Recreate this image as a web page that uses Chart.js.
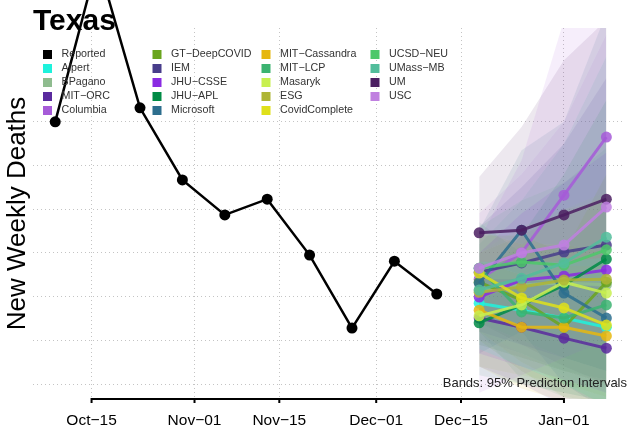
<!DOCTYPE html>
<html>
<head>
<meta charset="utf-8">
<script src="https://cdn.jsdelivr.net/npm/chart.js@4/dist/chart.umd.min.js"></script>
<style>
  html, body { margin: 0; padding: 0; background: #fff; }
</style>
</head>
<body>
<canvas id="chart" width="629" height="432"></canvas>
<script>
// days are counted from Oct 15
var reportedDays = [-6, 1, 8, 15, 22, 29, 36, 43, 50, 57];
var reportedDeaths = [1000, 1368, 1032, 867, 787, 823, 695, 528, 681, 606];
var forecastDays = [64, 71, 78, 85];

var tickDays = [0, 17, 31, 47, 61, 78];
var tickLabels = ['Oct\u221215', 'Nov\u221201', 'Nov\u221215', 'Dec\u221201', 'Dec\u221215', 'Jan\u221201'];
var gridValues = [400, 500, 600, 700, 800, 900, 1000];

var models = ['Alpert', 'BPagano', 'MIT\u2212ORC', 'Columbia', 'GT\u2212DeepCOVID', 'IEM', 'JHU\u2212CSSE',
  'JHU\u2212APL', 'Microsoft', 'MIT\u2212Cassandra', 'MIT\u2212LCP', 'Masaryk', 'ESG', 'CovidComplete',
  'UCSD\u2212NEU', 'UMass\u2212MB', 'UM', 'USC'];
var modelColors = ['#1ef2dc', '#8fbc8f', '#5a2a9e', '#a65bd8', '#6aa51e', '#483d8b', '#8a2be2',
  '#008b45', '#2d6e8e', '#e6b70f', '#3cb371', '#c8f050', '#aeb535', '#dfe01a',
  '#4dc86a', '#52bd9b', '#4b1f62', '#c080e0'];

// point forecasts, one row per model
var forecastMid = [
  [585, 569, 551, 530], [615, 627, 631, 627], [551, 530, 505, 482], [640, 700, 832, 965],
  [633, 592, 530, 633], [656, 677, 702, 718], [599, 638, 647, 661], [540, 581, 626, 686],
  [631, 752, 608, 551], [569, 530, 530, 510], [665, 565, 551, 581], [556, 581, 633, 608],
  [610, 622, 638, 640], [654, 597, 574, 535], [665, 679, 672, 707], [615, 642, 677, 736],
  [746, 752, 787, 823], [665, 700, 718, 805]
];
// 95% interval bounds
var forecastLo = [
  [480, 440, 400, 350], [520, 470, 420, 380], [440, 400, 350, 320], [380, 420, 460, 500],
  [500, 430, 370, 360], [520, 490, 460, 430], [470, 440, 410, 380], [420, 400, 380, 360],
  [470, 520, 400, 340], [440, 390, 360, 330], [520, 410, 370, 340], [440, 420, 400, 370],
  [490, 460, 430, 400], [520, 450, 400, 350], [540, 500, 460, 430], [490, 460, 430, 410],
  [540, 490, 440, 400], [500, 470, 430, 400]
];
var forecastHi = [
  [680, 680, 680, 690], [700, 760, 800, 840], [640, 640, 630, 620], [730, 912, 1233, 1500],
  [740, 740, 700, 880], [760, 850, 950, 1100], [700, 790, 860, 930], [640, 740, 880, 1050],
  [752, 935, 1000, 1250], [680, 650, 670, 670], [770, 700, 720, 800], [650, 720, 800, 820],
  [700, 740, 790, 830], [750, 720, 720, 700], [760, 820, 860, 940], [720, 820, 950, 1150],
  [874, 988, 1141, 1233], [790, 880, 1000, 1200]
];

function pts(xs, ys) {
  return xs.map(function(x, i) { return { x: x, y: ys[i] }; });
}

function hexA(hex, a) {
  var r = parseInt(hex.substr(1, 2), 16), g = parseInt(hex.substr(3, 2), 16), b = parseInt(hex.substr(5, 2), 16);
  return 'rgba(' + r + ',' + g + ',' + b + ',' + a + ')';
}

var datasets = [{
  label: 'Reported',
  data: pts(reportedDays, reportedDeaths),
  borderColor: '#000',
  backgroundColor: '#000',
  borderWidth: 2.5,
  pointRadius: 5.5,
  pointBorderWidth: 0,
  clip: false,
  order: 0
}];

models.forEach(function(name, i) {
  var col = modelColors[i];
  datasets.push({
    label: name,
    data: pts(forecastDays, forecastMid[i]),
    borderColor: hexA(col, 0.85),
    backgroundColor: hexA(col, 0.85),
    borderWidth: 3,
    pointRadius: 5.5,
    pointBorderWidth: 0,
    order: 1 + (models.length - i) * 0.01
  });
  datasets.push({
    label: name + ' hi',
    data: pts(forecastDays, forecastHi[i]),
    borderColor: 'rgba(0,0,0,0)',
    borderWidth: 0,
    pointRadius: 0,
    backgroundColor: hexA(col, 0.1),
    fill: '+1',
    order: 5
  });
  datasets.push({
    label: name + ' lo',
    data: pts(forecastDays, forecastLo[i]),
    borderColor: 'rgba(0,0,0,0)',
    borderWidth: 0,
    pointRadius: 0,
    fill: false,
    order: 5
  });
});

var FONT = '"Liberation Sans", Arial, Helvetica, sans-serif';

var decorations = {
  id: 'decorations',
  beforeDatasetsDraw: function(chart) {
    var ctx = chart.ctx;
    ctx.save();
    ctx.fillStyle = '#000';
    ctx.font = 'bold 30px ' + FONT;
    ctx.textBaseline = 'alphabetic';
    ctx.textAlign = 'left';
    ctx.fillText('Texas', 33, 30);
    ctx.restore();
  },
  afterDatasetsDraw: function(chart) {
    var ctx = chart.ctx;
    var xs = chart.scales.x;
    var yb = chart.chartArea.bottom;
    ctx.save();
    // x axis line from first to last tick
    ctx.strokeStyle = '#000';
    ctx.lineWidth = 2;
    ctx.beginPath();
    ctx.moveTo(xs.getPixelForValue(tickDays[0]), yb);
    ctx.lineTo(xs.getPixelForValue(tickDays[tickDays.length - 1]), yb);
    tickDays.forEach(function(d) {
      var px = xs.getPixelForValue(d);
      ctx.moveTo(px, yb - 1);
      ctx.lineTo(px, yb + 4);
    });
    ctx.stroke();

    // legend, column-major, 5 rows
    var colX = [43, 152.5, 261.5, 370.5];
    ctx.font = '10.7px ' + FONT;
    ctx.textBaseline = 'middle';
    ctx.textAlign = 'left';
    var items = [{ name: 'Reported', color: '#000' }];
    models.forEach(function(m, i) { items.push({ name: m, color: modelColors[i] }); });
    items.forEach(function(it, k) {
      var c = Math.floor(k / 5), r = k % 5;
      var cy = 54.5 + r * 14;
      ctx.fillStyle = it.color;
      ctx.fillRect(colX[c], cy - 4.5, 9, 9);
      ctx.fillStyle = '#333';
      ctx.fillText(it.name, colX[c] + 18.5, cy);
    });

    ctx.font = '13px ' + FONT;
    ctx.textAlign = 'right';
    ctx.fillStyle = '#222';
    ctx.fillText('Bands: 95% Prediction Intervals', 627, 383);
    ctx.restore();
  }
};

new Chart(document.getElementById('chart'), {
  type: 'line',
  data: { datasets: datasets },
  options: {
    responsive: false,
    animation: false,
    layout: { padding: { left: 0, right: 1, top: 28, bottom: 0 } },
    plugins: { legend: { display: false }, tooltip: { enabled: false } },
    scales: {
      x: {
        type: 'linear',
        min: -9.635,
        max: 87.83,
        afterBuildTicks: function(scale) {
          scale.ticks = tickDays.map(function(v) { return { value: v }; });
        },
        afterFit: function(scale) { scale.height = 33; },
        ticks: {
          autoSkip: false,
          maxRotation: 0,
          padding: 12,
          color: '#000',
          font: { family: FONT, size: 15.5 },
          callback: function(v) { return tickLabels[tickDays.indexOf(v)]; }
        },
        grid: { color: '#c4c4c4', lineWidth: 1, drawTicks: false },
        border: { display: false, dash: [1, 3] }
      },
      y: {
        type: 'linear',
        min: 365.7,
        max: 1214.7,
        afterBuildTicks: function(scale) {
          scale.ticks = gridValues.map(function(v) { return { value: v }; });
        },
        ticks: { display: false },
        grid: { color: '#c4c4c4', lineWidth: 1, drawTicks: false },
        border: { display: false, dash: [1, 3] },
        title: {
          display: true,
          text: 'New Weekly Deaths',
          color: '#000',
          font: { family: FONT, size: 26, weight: 'normal' },
          padding: { top: 2, bottom: 0 }
        }
      }
    }
  },
  plugins: [decorations]
});
</script>
</body>
</html>
